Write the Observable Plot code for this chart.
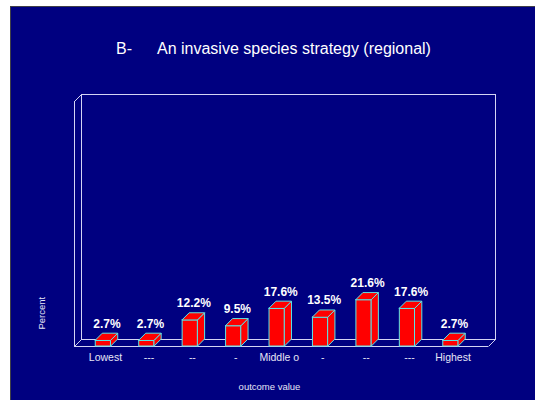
<!DOCTYPE html>
<html>
<head>
<meta charset="utf-8">
<script src="https://cdn.jsdelivr.net/npm/d3@7"></script>
<script src="https://cdn.jsdelivr.net/npm/@observablehq/plot@0.6"></script>
<style>
  html, body { margin: 0; padding: 0; background: #ffffff; width: 535px; height: 400px; overflow: hidden; }
  #panel { position: absolute; left: 10px; top: 6px; width: 524px; height: 393px;
           background: #000080; border-top: 1px solid #404048; border-left: 1px solid #404048; }
  #title { height: 78px; box-sizing: border-box; padding-top: 33px; padding-left: 105px; line-height: 18px;
           text-align: left; color: #ffffff; font-family: "Liberation Sans", Arial, sans-serif;
           font-size: 16px; white-space: pre; }
  #title .main { margin-left: 25px; }
  #chart svg { display: block; }
</style>
</head>
<body>
<div id="panel">
  <div id="title"><span>B-</span><span class="main">An invasive species strategy (regional)</span></div>
  <div id="chart"></div>
</div>
<script>
// ---- data ----
const categories = ["Lowest", "---", "--", "-", "Middle o", "-", "--", "---", "Highest"];
const percents = [2.7, 2.7, 12.2, 9.5, 17.6, 13.5, 21.6, 17.6, 2.7];
const xTitle = "outcome value";
const yTitle = "Percent";

// ---- geometry settings (scale units) ----
const xDomain = [-0.6676, 8.863];
const yDomain = [0, 114];
const halfW = 0.178;   // half bar width in category steps
const depthX = 0.161;  // 3D depth in category steps
const depthY = 3.26;   // 3D depth in percent units

const rows = categories.map((c, i) => ({i, c, v: percents[i]}));
const topPts = rows.flatMap(d => [
  {i: d.i, y: d.v, x1: d.i - halfW, x2: d.i + halfW},
  {i: d.i, y: d.v + depthY, x1: d.i - halfW + depthX, x2: d.i + halfW + depthX}
]);
const sidePts = rows.flatMap(d => [
  {i: d.i, x: d.i + halfW, y1: 0, y2: d.v},
  {i: d.i, x: d.i + halfW + depthX, y1: depthY, y2: d.v + depthY}
]);
const corners = [
  {x: xDomain[0], y: yDomain[1]},
  {x: xDomain[0], y: 0},
  {x: xDomain[1], y: 0}
];

const frameColor = "#d4d4f4";
const red = "#ff0000";
const edge = "#5ce6e6";

const chart = Plot.plot({
  width: 524,
  height: 315,
  marginLeft: 63,
  marginRight: 47,
  marginTop: 16,
  marginBottom: 54,
  style: {background: "transparent", color: "#e6e6f6", fontFamily: "'Liberation Sans', Arial, sans-serif"},
  x: {type: "linear", domain: xDomain},
  y: {domain: yDomain, axis: null},
  marks: [
    Plot.frame({stroke: frameColor, dx: 7, dy: -7}),
    Plot.ruleX([xDomain[0]], {stroke: frameColor}),
    Plot.ruleY([0], {stroke: frameColor}),
    Plot.link(corners, {x1: "x", y1: "y", x2: d => d.x + depthX, y2: d => d.y + depthY, stroke: frameColor}),
    Plot.rectY(rows, {x1: d => d.i - halfW, x2: d => d.i + halfW, y1: 0, y2: "v", fill: red, stroke: edge, strokeWidth: 1}),
    Plot.areaY(sidePts, {x: "x", y1: "y1", y2: "y2", z: "i", fill: red, stroke: edge, strokeWidth: 1}),
    Plot.areaX(topPts, {y: "y", x1: "x1", x2: "x2", z: "i", fill: red, stroke: edge, strokeWidth: 1}),
    Plot.text(rows, {x: "i", y: "v", text: d => d.v.toFixed(1) + "%", dx: 3.5, dy: -17,
      fill: "#ffffff", fontWeight: "bold", fontSize: 12}),
    Plot.axisX({ticks: d3.range(categories.length), tickFormat: i => categories[i], tickSize: 0,
      tickPadding: 7, fontSize: 10.5, dx: 2, label: null}),
    Plot.text([xTitle], {frameAnchor: "bottom", text: d => d, dy: 43, dx: -12, fontSize: 9.5, fill: "#e6e6f6"}),
    Plot.text([yTitle], {frameAnchor: "bottom-left", text: d => d, dx: -30, dy: -17, rotate: -90, fontSize: 9.5, fill: "#e6e6f6"})
  ]
});
document.getElementById("chart").appendChild(chart);
</script>
</body>
</html>
